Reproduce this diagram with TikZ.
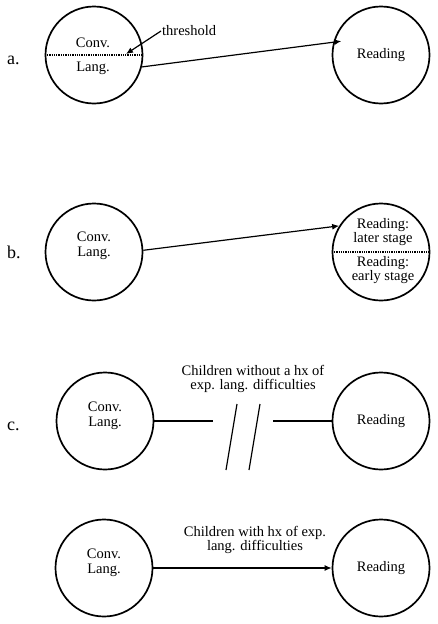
\documentclass[tikz,border=0pt]{standalone}
\usepackage{fontspec}
\setmainfont{Liberation Serif}
\usetikzlibrary{positioning,arrows.meta}

\begin{document}
\begin{tikzpicture}[x=1pt,y=-1pt,
    bubble/.style={circle, draw, line width=1.7pt, minimum size=97pt, inner sep=0pt, font=\fontsize{14.5}{14.5}\selectfont, align=center},
    txt/.style={inner sep=1pt, font=\fontsize{14.5}{14.5}\selectfont, align=center},
    panel/.style={inner sep=0pt, anchor=base west, font=\fontsize{18}{20}\selectfont},
    link/.style={line width=1.2pt},
    arr/.style={line width=1.2pt, -{Latex[length=7pt,width=6pt]}},
    cut/.style={densely dotted, line width=1.3pt}]

    \useasboundingbox (0,0) rectangle (437,624);

    % a.
    \node[panel] (pa) at (7,64) {a.};
    \node[bubble] (la) at (94,55) {};
    \node[bubble] (ra) at (381,55) {Reading};
    \draw[cut] (la.west) -- (la.east);
    \node[txt] (la1) at (93,43) {Conv.};
    \node[txt] (la2) at (93,68) {Lang.};
    \node[txt, anchor=west] (thr) at (161,31) {threshold};
    \coordinate (thrtip) at (126,54);
    \draw[arr] (thr.west) -- (thrtip);
    \draw[arr, shorten >=-8pt] (la.-14) -- (ra.165);

    % b.
    \node[panel] (pb) at (7,258) {b.};
    \node[bubble] (lb) at (94,252) {};
    \node[txt] (lbt) at (94,246) {Conv.\\Lang.};
    \node[bubble] (rb) at (381,252) {};
    \draw[cut] (rb.west) -- (rb.east);
    \node[txt] (rb1) at (383,232) {Reading:\\later stage};
    \node[txt] (rb2) at (383,270) {Reading:\\early stage};
    \draw[arr] (lb.2) -- (rb.148);

    % c.
    \node[panel] (pc) at (7,430) {c.};
    \node[bubble] (lc) at (105,421) {};
    \node[txt] (lct) at (105,416) {Conv.\\Lang.};
    \node[bubble] (rc) at (381,421) {Reading};
    \coordinate (brk1) at (213,421);
    \coordinate (brk2) at (273,421);
    \draw[link] (lc.east) -- (brk1);
    \draw[link] (brk2) -- (rc.west);
    \draw[link] (237,404) -- (226,470);
    \draw[link] (260,404) -- (249,470);
    \node[txt] (lbl1) at (253,379) {Children without a hx of\\exp. lang. difficulties};

    \node[bubble] (lc2) at (104,568) {};
    \node[txt] (lc2t) at (104,563) {Conv.\\Lang.};
    \node[bubble] (rc2) at (381,568) {Reading};
    \draw[arr] (lc2.east) -- (rc2.west);
    \node[txt] (lbl2) at (255,540) {Children with hx of exp.\\lang. difficulties};

\end{tikzpicture}
\end{document}
